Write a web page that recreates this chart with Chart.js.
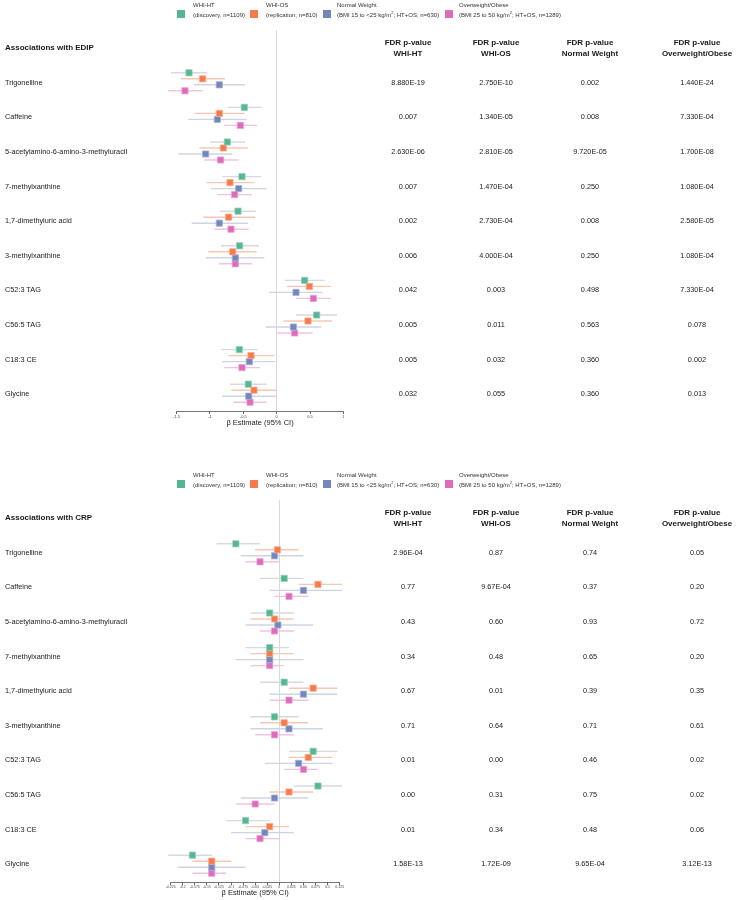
<!DOCTYPE html>
<html>
<head>
<meta charset="utf-8">
<script src="https://cdn.jsdelivr.net/npm/chart.js@4.4.1/dist/chart.umd.min.js"></script>
<style>
  html, body { margin: 0; padding: 0; background: #fff; }
  body { width: 737px; height: 900px; position: relative; overflow: hidden;
         font-family: "Liberation Sans", Arial, Helvetica, sans-serif; color: #1a1a1a; }
  .t { position: absolute; white-space: nowrap; line-height: 1; }
  .c { transform: translate(-50%, -50%); text-align: center; }
  .l { transform: translateY(-50%); }
  .hdr { font-weight: bold; font-size: 8px; }
  .row { font-size: 7.3px; color: #222; }
  .leg { font-size: 6px; color: #333; }
  .sq { position: absolute; width: 8px; height: 8px; }
  canvas { position: absolute; left: 0; }
  sup { font-size: 4px; vertical-align: 3px; line-height: 0; }
</style>
</head>
<body>
<canvas id="edip" width="737" height="440" style="top:0px"></canvas>
<canvas id="crp" width="737" height="450" style="top:450px"></canvas>
<script>
// ---------------- DATA ----------------
const rowLabels = ["Trigonelline", "Caffeine", "5-acetylamino-6-amino-3-methyluracil", "7-methylxanthine",
  "1,7-dimethyluric acid", "3-methylxanthine", "C52:3 TAG", "C56:5 TAG", "C18:3 CE", "Glycine"];

const seriesNames = ["WHI-HT", "WHI-OS", "Normal Weight", "Overweight/Obese"];
const seriesNotes = ["(discovery, n=1109)", "(replication; n=810)",
  "(BMI 15 to <25 kg/m<sup>2</sup>; HT+OS; n=630)", "(BMI 25 to 50 kg/m<sup>2</sup>; HT+OS, n=1289)"];
const columnHeads = ["WHI-HT", "WHI-OS", "Normal Weight", "Overweight/Obese"];

// EDIP panel: beta estimates and 95% CI
const edipHtEst = [-1.315, -0.485, -0.74, -0.52, -0.58, -0.555, 0.42, 0.60, -0.56, -0.425];
const edipHtLo  = [-1.585, -0.735, -1.00, -0.81, -0.85, -0.835, 0.12, 0.29, -0.835, -0.70];
const edipHtHi  = [-1.04, -0.225, -0.475, -0.235, -0.315, -0.265, 0.72, 0.905, -0.285, -0.15];

const edipOsEst = [-1.11, -0.86, -0.80, -0.70, -0.72, -0.66, 0.49, 0.47, -0.385, -0.34];
const edipOsLo  = [-1.435, -1.235, -1.16, -1.05, -1.10, -1.025, 0.155, 0.10, -0.72, -0.68];
const edipOsHi  = [-0.775, -0.485, -0.43, -0.335, -0.325, -0.30, 0.81, 0.83, -0.035, 0.01];

const edipNwEst = [-0.86, -0.89, -1.065, -0.57, -0.86, -0.62, 0.29, 0.25, -0.41, -0.42];
const edipNwLo  = [-1.235, -1.325, -1.475, -0.985, -1.275, -1.06, -0.115, -0.165, -0.82, -0.82];
const edipNwHi  = [-0.475, -0.45, -0.665, -0.15, -0.43, -0.185, 0.69, 0.67, -0.025, -0.005];

const edipOoEst = [-1.375, -0.545, -0.84, -0.63, -0.685, -0.62, 0.55, 0.27, -0.52, -0.40];
const edipOoLo  = [-1.625, -0.79, -1.085, -0.885, -0.935, -0.865, 0.29, 0.00, -0.785, -0.65];
const edipOoHi  = [-1.115, -0.29, -0.575, -0.37, -0.42, -0.365, 0.81, 0.54, -0.25, -0.15];

const edipPHt = ["8.880E-19", "0.007", "2.630E-06", "0.007", "0.002", "0.006", "0.042", "0.005", "0.005", "0.032"];
const edipPOs = ["2.750E-10", "1.340E-05", "2.810E-05", "1.470E-04", "2.730E-04", "4.000E-04", "0.003", "0.011", "0.032", "0.055"];
const edipPNw = ["0.002", "0.008", "9.720E-05", "0.250", "0.008", "0.250", "0.498", "0.563", "0.360", "0.360"];
const edipPOo = ["1.440E-24", "7.330E-04", "1.700E-08", "1.080E-04", "2.580E-05", "1.080E-04", "7.330E-04", "0.078", "0.002", "0.013"];

const edipTicks = [-1.5, -1, -0.5, 0, 0.5, 1];
const edipTickLabels = ["-1.5", "-1", "-0.5", "0", "0.5", "1"];

// CRP panel
const crpHtEst = [-0.09, 0.01, -0.02, -0.02, 0.01, -0.01, 0.07, 0.08, -0.07, -0.18];
const crpHtLo  = [-0.13, -0.04, -0.06, -0.07, -0.04, -0.06, 0.02, 0.03, -0.11, -0.23];
const crpHtHi  = [-0.04, 0.05, 0.03, 0.02, 0.05, 0.04, 0.12, 0.13, -0.02, -0.14];

const crpOsEst = [-0.004, 0.08, -0.01, -0.02, 0.07, 0.01, 0.06, 0.02, -0.02, -0.14];
const crpOsLo  = [-0.05, 0.04, -0.06, -0.06, 0.02, -0.04, 0.02, -0.02, -0.07, -0.18];
const crpOsHi  = [0.04, 0.13, 0.03, 0.03, 0.12, 0.06, 0.11, 0.07, 0.02, -0.10];

const crpNwEst = [-0.01, 0.05, -0.003, -0.02, 0.05, 0.02, 0.04, -0.01, -0.03, -0.14];
const crpNwLo  = [-0.08, -0.02, -0.07, -0.09, -0.02, -0.06, -0.03, -0.08, -0.10, -0.21];
const crpNwHi  = [0.05, 0.13, 0.07, 0.05, 0.12, 0.09, 0.11, 0.06, 0.03, -0.07];

const crpOoEst = [-0.04, 0.02, -0.01, -0.02, 0.02, -0.01, 0.05, -0.05, -0.04, -0.14];
const crpOoLo  = [-0.07, -0.01, -0.04, -0.06, -0.02, -0.05, 0.01, -0.09, -0.07, -0.18];
const crpOoHi  = [0.00, 0.06, 0.03, 0.01, 0.06, 0.03, 0.08, -0.01, 0.00, -0.11];

const crpPHt = ["2.96E-04", "0.77", "0.43", "0.34", "0.67", "0.71", "0.01", "0.00", "0.01", "1.58E-13"];
const crpPOs = ["0.87", "9.67E-04", "0.60", "0.48", "0.01", "0.64", "0.00", "0.31", "0.34", "1.72E-09"];
const crpPNw = ["0.74", "0.37", "0.93", "0.65", "0.39", "0.71", "0.46", "0.75", "0.48", "9.65E-04"];
const crpPOo = ["0.05", "0.20", "0.72", "0.20", "0.35", "0.61", "0.02", "0.02", "0.06", "3.12E-13"];

const crpTicks = [-0.225, -0.2, -0.175, -0.15, -0.125, -0.1, -0.075, -0.05, -0.025, 0, 0.025, 0.05, 0.075, 0.1, 0.125];
const crpTickLabels = ["-0.225", "-0.2", "-0.175", "-0.15", "-0.125", "-0.1", "-0.075", "-0.05", "-0.025", "0",
  "0.025", "0.05", "0.075", "0.1", "0.125"];

// ---------------- STYLE ----------------
const markColors = ["#55b692", "#f67a4c", "#7486be", "#dd6cbd"];
const markBorders = ["#8fd0b6", "#fbac8d", "#a6b2d8", "#ea9fd5"];
const ciColors = ["#d9d9d9", "#f6c8b3", "#d0d3e4", "#f2c3df"];
const seriesOffsets = [-0.26, -0.087, 0.087, 0.26];   // row units
const ROW_STEP = 34.6;
const colX = [408, 496, 590, 697];
const FONT = '"Liberation Sans", Arial, Helvetica, sans-serif';
Chart.defaults.font.family = FONT;

// ---------------- TEXT ----------------
function addText(html, x, y, cls) {
  const d = document.createElement('div');
  d.className = 't ' + cls;
  d.style.left = x + 'px';
  d.style.top = y + 'px';
  d.innerHTML = html;
  document.body.appendChild(d);
}
function addSquare(x, y, color) {
  const d = document.createElement('div');
  d.className = 'sq';
  d.style.left = x + 'px'; d.style.top = y + 'px'; d.style.background = color;
  document.body.appendChild(d);
}
function panelText(dy, title, pCols) {
  const sqX = [177, 250, 323, 445], txX = [193, 266, 337, 459];
  for (let k = 0; k < 4; k++) {
    addSquare(sqX[k], dy + 9.5, markColors[k]);
    addText(seriesNames[k], txX[k], dy + 5, 'l leg');
    addText(seriesNotes[k], txX[k], dy + 14.5, 'l leg');
  }
  addText(title, 5, dy + 48, 'l hdr');
  for (let k = 0; k < 4; k++) {
    addText('FDR p-value', colX[k], dy + 43.3, 'c hdr');
    addText(columnHeads[k], colX[k], dy + 54.3, 'c hdr');
  }
  rowLabels.forEach((lab, i) => {
    const y = dy + 82.7 + ROW_STEP * i;
    addText(lab, 5, y, 'l row');
    for (let k = 0; k < 4; k++) addText(pCols[k][i], colX[k], y, 'c row');
  });
}
panelText(0, 'Associations with EDIP', [edipPHt, edipPOs, edipPNw, edipPOo]);
panelText(470, 'Associations with CRP', [crpPHt, crpPOs, crpPNw, crpPOo]);

// ---------------- CHARTS ----------------
const ciPlugin = {
  id: 'ciLines',
  beforeDatasetsDraw(chart) {
    const { ctx, scales: { x, y } } = chart;
    chart.data.datasets.forEach(ds => {
      ctx.save();
      ctx.strokeStyle = ds.ciColor;
      ctx.lineWidth = 1.4;
      ds.data.forEach((p, i) => {
        const py = y.getPixelForValue(p.y);
        ctx.beginPath();
        ctx.moveTo(x.getPixelForValue(ds.lo[i]), py);
        ctx.lineTo(x.getPixelForValue(ds.hi[i]), py);
        ctx.stroke();
      });
      ctx.restore();
    });
  }
};

function makeChart(id, est, lo, hi, xMin, xMax, ticks, tickLabels, tickSize, yMin, yMax, pad) {
  const datasets = est.map((e, k) => ({
    label: seriesNames[k],
    data: e.map((v, i) => ({ x: v, y: i + seriesOffsets[k] })),
    lo: lo[k], hi: hi[k], ciColor: ciColors[k],
    backgroundColor: markColors[k], borderColor: markBorders[k], borderWidth: 0.8,
    pointStyle: 'rect', pointRadius: 4.4, pointHoverRadius: 4.4
  }));
  return new Chart(document.getElementById(id), {
    type: 'scatter',
    data: { datasets },
    options: {
      responsive: false, animation: false, events: [],
      layout: { padding: pad, autoPadding: false },
      plugins: { legend: { display: false }, tooltip: { enabled: false } },
      scales: {
        x: {
          type: 'linear', min: xMin, max: xMax,
          afterBuildTicks: s => { s.ticks = ticks.map(v => ({ value: v })); },
          ticks: { font: { size: tickSize }, color: '#444', padding: 0, autoSkip: false, maxRotation: 0,
                   callback: v => tickLabels[ticks.indexOf(v)] },
          grid: { color: c => (c.tick && c.tick.value === 0) ? '#d9d9d9' : 'rgba(0,0,0,0)',
                  lineWidth: 1, tickLength: 3, tickColor: '#666' },
          border: { display: true, color: '#777', width: 1 },
          title: { display: true, text: 'β Estimate (95% CI)', color: '#222',
                   font: { size: 7.5, lineHeight: 1 }, padding: 0 }
        },
        y: { type: 'linear', display: false, reverse: true, min: yMin, max: yMax }
      }
    },
    plugins: [ciPlugin]
  });
}

makeChart('edip',
  [edipHtEst, edipOsEst, edipNwEst, edipOoEst],
  [edipHtLo, edipOsLo, edipNwLo, edipOoLo],
  [edipHtHi, edipOsHi, edipNwHi, edipOoHi],
  -1.5, 1, edipTicks, edipTickLabels, 4,
  (30 - 81.8) / ROW_STEP, (411 - 81.8) / ROW_STEP,
  { top: 30, bottom: 13.7, left: 176.65, right: 393.65 });

makeChart('crp',
  [crpHtEst, crpOsEst, crpNwEst, crpOoEst],
  [crpHtLo, crpOsLo, crpNwLo, crpOoLo],
  [crpHtHi, crpOsHi, crpNwHi, crpOoHi],
  -0.225, 0.125, crpTicks, crpTickLabels, 3.5,
  (500 - 552.8) / ROW_STEP, (882.3 - 552.8) / ROW_STEP,
  { top: 50, bottom: 3.0, left: 170.7, right: 397.3 });
</script>
</body>
</html>
